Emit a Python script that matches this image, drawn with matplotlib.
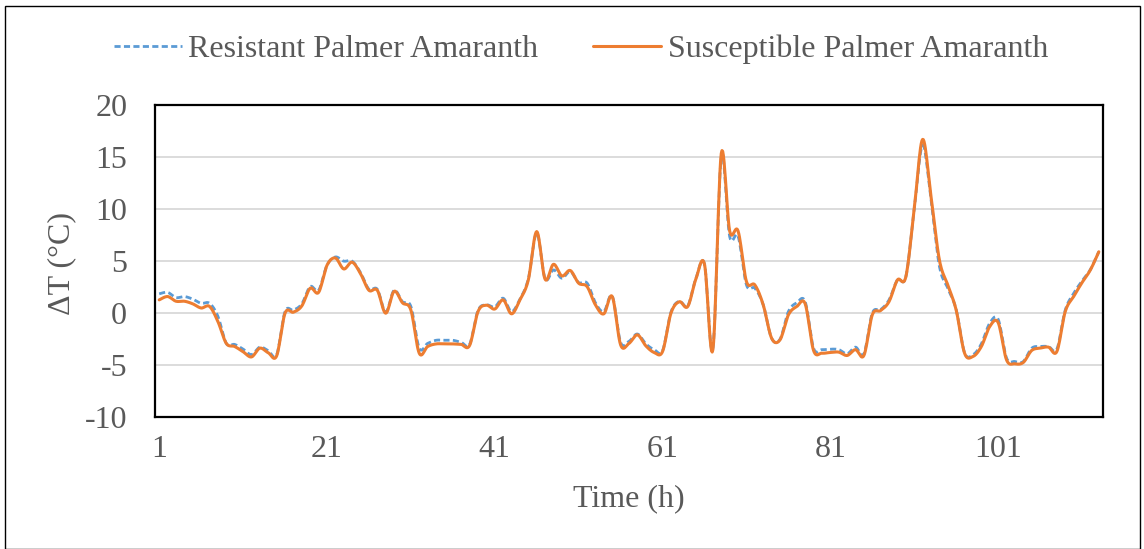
import numpy as np
import matplotlib.pyplot as plt
from matplotlib.patches import Rectangle

plt.rcParams['font.family'] = ['Liberation Serif', 'DejaVu Serif']
plt.rcParams['axes.unicode_minus'] = False

hours = np.arange(1, 114)

resistant = [
    1.86, 2.0, 1.5, 1.6, 1.35, 0.95, 0.95, -0.3, -2.9, -3.0,
    -3.45, -3.97, -3.26, -3.6, -4.0, 0.15, 0.3, 0.9, 2.56, 2.2,
    4.6, 5.4, 5.0, 5.0, 3.9, 2.3, 2.3, 0.1, 2.2, 1.1,
    0.65, -3.36, -2.9, -2.6, -2.6, -2.6, -2.8, -3.0, 0.25, 0.8,
    0.6, 1.44, 0.16, 1.35, 3.3, 7.7, 3.3, 4.16, 3.36, 4.0,
    2.94, 2.9, 1.0, 0.16, 1.65, -2.8, -2.7, -2.0, -2.94, -3.5,
    -3.6, 0.1, 1.15, 0.7, 3.4, 4.7, -3.4, 15.0, 7.36, 7.4,
    2.72, 2.4, 0.8, -2.4, -2.5, 0.16, 1.0, 1.1, -3.36, -3.5,
    -3.45, -3.5, -3.9, -3.26, -3.9, 0.0, 0.35, 1.28, 3.2, 3.5,
    10.0, 16.15, 10.9, 4.5, 2.4, 0.35, -3.8, -4.0, -2.94, -0.96,
    -0.58, -4.3, -4.64, -4.64, -3.36, -3.2, -3.2, -3.45, 0.3, 1.9,
    3.1, 4.2, 5.9,
]

susceptible = [
    1.28, 1.6, 1.15, 1.15, 0.9, 0.5, 0.65, -0.8, -2.9, -3.2,
    -3.7, -4.2, -3.36, -3.8, -4.1, 0.0, 0.1, 0.7, 2.4, 2.0,
    4.6, 5.3, 4.25, 4.9, 3.8, 2.2, 2.2, 0.0, 2.1, 1.0,
    0.3, -3.85, -3.2, -2.95, -2.95, -2.95, -3.0, -3.1, 0.15, 0.77,
    0.4, 1.28, -0.06, 1.28, 3.2, 7.84, 3.26, 4.7, 3.58, 4.1,
    2.88, 2.56, 0.8, -0.06, 1.6, -3.04, -2.9, -2.08, -3.13, -3.77,
    -3.68, 0.0, 1.1, 0.64, 3.36, 4.7, -3.5, 15.35, 7.9, 7.9,
    3.04, 2.72, 0.8, -2.4, -2.56, -0.16, 0.64, 0.9, -3.58, -3.84,
    -3.77, -3.74, -4.06, -3.5, -4.06, -0.16, 0.26, 1.12, 3.2, 3.5,
    10.0, 16.7, 11.2, 5.1, 2.7, 0.3, -3.84, -4.16, -3.2, -1.28,
    -0.9, -4.48, -4.86, -4.73, -3.58, -3.36, -3.26, -3.68, 0.16, 1.6,
    2.94, 4.16, 5.9,
]

y_ticks = [-10, -5, 0, 5, 10, 15, 20]
x_ticks = [1, 21, 41, 61, 81, 101]


def smooth(x, y, steps=12):
    # Bezier segments through each point, control points from neighbours
    x = np.asarray(x, float)
    y = np.asarray(y, float)
    px = np.concatenate([[x[0]], x, [x[-1]]])
    py = np.concatenate([[y[0]], y, [y[-1]]])
    t = np.linspace(0, 1, steps, endpoint=False)[:, None]
    xs, ys = [], []
    for i in range(1, len(px) - 2):
        p0 = np.array([px[i], py[i]])
        p3 = np.array([px[i + 1], py[i + 1]])
        c1 = p0 + (p3 - np.array([px[i - 1], py[i - 1]])) / 6
        c2 = p3 - (np.array([px[i + 2], py[i + 2]]) - p0) / 6
        pts = ((1 - t) ** 3) * p0 + 3 * ((1 - t) ** 2) * t * c1 \
            + 3 * (1 - t) * t ** 2 * c2 + t ** 3 * p3
        xs.append(pts[:, 0])
        ys.append(pts[:, 1])
    xs.append([x[-1]])
    ys.append([y[-1]])
    return np.concatenate(xs), np.concatenate(ys)


W, H = 1144, 549
fig = plt.figure(figsize=(W / 100, H / 100), dpi=100)
ax = fig.add_axes([155 / W, (H - 417.3) / H, 948 / W, 312.3 / H])

grey = '#595959'
fs = 23
rx, ry = smooth(hours, resistant)
sx, sy = smooth(hours, susceptible)
ax.plot(rx, ry, color='#5B9BD5', lw=2.0, dashes=(2.2, 1.2),
        label='Resistant Palmer Amaranth', zorder=3)
ax.plot(sx, sy, color='#ED7D31', lw=2.2, solid_capstyle='round',
        label='Susceptible Palmer Amaranth', zorder=4)

ax.set_xlim(0.5, 113.5)
ax.set_ylim(-10, 20)
ax.set_yticks(y_ticks)
ax.set_xticks(x_ticks)
ax.grid(axis='y', color='#D9D9D9', lw=1.3)
ax.set_axisbelow(True)
ax.tick_params(length=0, labelsize=fs, labelcolor=grey)
ax.tick_params(axis='x', pad=13)
ax.tick_params(axis='y', pad=20)
for s in ax.spines.values():
    s.set_linewidth(1.6)
    s.set_color('black')

ax.set_xlabel('Time (h)', fontsize=fs, color=grey, va='center')
ax.xaxis.set_label_coords(0.5, -0.2616)
ax.set_ylabel('ΔT (°C)', fontsize=fs, color=grey, va='center')
ax.yaxis.set_label_coords(-0.0984, 0.494)

fig.legend(loc='center', bbox_to_anchor=(581 / W, 1 - 49 / H), ncol=2,
           frameon=False, fontsize=fs, labelcolor=grey, handlelength=2.13,
           handletextpad=0.21, columnspacing=1.72)

fig.patches.append(Rectangle((5 / W, 0), 1135 / W, 1 - 6 / H,
                             transform=fig.transFigure, fill=False,
                             edgecolor='black', lw=1.0))

fig.savefig('out.png', dpi=100)
